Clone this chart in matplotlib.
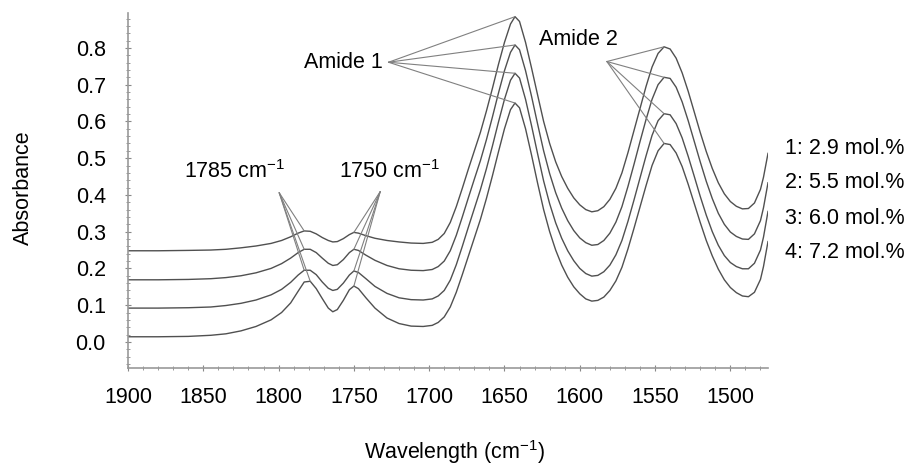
import numpy as np
import matplotlib
matplotlib.use("Agg")
import matplotlib.pyplot as plt
from matplotlib.ticker import MultipleLocator

plt.rcParams["font.family"] = ["Liberation Sans", "DejaVu Sans"]
plt.rcParams["mathtext.fontset"] = "custom"
plt.rcParams["mathtext.rm"] = "Liberation Sans"
plt.rcParams["mathtext.it"] = "Liberation Sans:italic"

# wavenumbers (cm-1)
wavenumber = [1900, 1880, 1860, 1845, 1835, 1825, 1815, 1805, 1798, 1792,
              1787, 1783, 1779, 1775, 1771, 1767, 1764, 1761, 1757, 1753,
              1750, 1747, 1742, 1736, 1728, 1720, 1712, 1704, 1698, 1694,
              1690, 1686, 1682, 1678, 1674, 1670, 1666, 1662, 1658, 1654,
              1650, 1646, 1643, 1640, 1636, 1632, 1628, 1624, 1620, 1616,
              1612, 1608, 1604, 1600, 1596, 1592, 1588, 1584, 1580, 1576,
              1572, 1568, 1564, 1560, 1556, 1552, 1548, 1544, 1540, 1536,
              1532, 1528, 1524, 1520, 1516, 1512, 1508, 1504, 1500, 1496,
              1492, 1488, 1484, 1480, 1478, 1475]

abs_1 = [0.248, 0.248, 0.249, 0.250, 0.252, 0.256, 0.261, 0.268, 0.276, 0.286,
         0.296, 0.302, 0.301, 0.294, 0.284, 0.276, 0.272, 0.273, 0.281, 0.292,
         0.298, 0.296, 0.289, 0.282, 0.276, 0.272, 0.269, 0.268, 0.271, 0.279,
         0.295, 0.325, 0.368, 0.418, 0.470, 0.520, 0.570, 0.628, 0.690, 0.755,
         0.815, 0.865, 0.885, 0.872, 0.815, 0.745, 0.672, 0.600, 0.540, 0.490,
         0.450, 0.418, 0.392, 0.373, 0.360, 0.354, 0.357, 0.368, 0.388, 0.418,
         0.460, 0.515, 0.575, 0.635, 0.695, 0.748, 0.785, 0.803, 0.797, 0.772,
         0.732, 0.682, 0.626, 0.570, 0.518, 0.472, 0.433, 0.403, 0.382, 0.369,
         0.362, 0.363, 0.378, 0.415, 0.448, 0.513]

abs_2 = [0.169, 0.169, 0.170, 0.172, 0.175, 0.180, 0.188, 0.200, 0.213, 0.228,
         0.243, 0.252, 0.252, 0.243, 0.228, 0.214, 0.208, 0.210, 0.224, 0.243,
         0.252, 0.249, 0.236, 0.222, 0.208, 0.199, 0.195, 0.194, 0.197, 0.205,
         0.220, 0.248, 0.290, 0.340, 0.392, 0.443, 0.493, 0.550, 0.612, 0.677,
         0.738, 0.788, 0.808, 0.795, 0.738, 0.668, 0.593, 0.520, 0.458, 0.406,
         0.364, 0.330, 0.303, 0.283, 0.270, 0.263, 0.265, 0.276, 0.296, 0.326,
         0.368, 0.423, 0.483, 0.545, 0.605, 0.660, 0.700, 0.720, 0.717, 0.693,
         0.653, 0.602, 0.546, 0.490, 0.437, 0.390, 0.350, 0.320, 0.299, 0.287,
         0.280, 0.279, 0.294, 0.330, 0.365, 0.433]

abs_3 = [0.092, 0.092, 0.093, 0.095, 0.099, 0.105, 0.114, 0.128, 0.143, 0.162,
         0.182, 0.195, 0.195, 0.183, 0.163, 0.146, 0.140, 0.143, 0.160, 0.182,
         0.193, 0.189, 0.172, 0.151, 0.132, 0.120, 0.115, 0.114, 0.117, 0.125,
         0.140, 0.168, 0.210, 0.260, 0.312, 0.363, 0.414, 0.471, 0.533, 0.598,
         0.660, 0.712, 0.731, 0.718, 0.660, 0.588, 0.512, 0.438, 0.376, 0.324,
         0.282, 0.248, 0.221, 0.200, 0.186, 0.179, 0.181, 0.191, 0.209, 0.237,
         0.276, 0.328, 0.386, 0.446, 0.506, 0.562, 0.602, 0.621, 0.618, 0.594,
         0.555, 0.505, 0.451, 0.396, 0.345, 0.300, 0.263, 0.235, 0.216, 0.205,
         0.199, 0.199, 0.214, 0.250, 0.285, 0.355]

abs_4 = [0.014, 0.014, 0.015, 0.018, 0.022, 0.030, 0.042, 0.060, 0.080, 0.106,
         0.138, 0.163, 0.165, 0.145, 0.118, 0.092, 0.082, 0.088, 0.113, 0.142,
         0.152, 0.145, 0.120, 0.092, 0.065, 0.050, 0.043, 0.042, 0.045, 0.053,
         0.068, 0.095, 0.135, 0.183, 0.233, 0.283, 0.333, 0.390, 0.452, 0.517,
         0.580, 0.632, 0.650, 0.637, 0.580, 0.508, 0.432, 0.360, 0.300, 0.250,
         0.209, 0.176, 0.150, 0.131, 0.117, 0.111, 0.113, 0.122, 0.140, 0.166,
         0.203, 0.253, 0.309, 0.367, 0.425, 0.480, 0.520, 0.540, 0.537, 0.514,
         0.477, 0.429, 0.377, 0.325, 0.276, 0.234, 0.198, 0.169, 0.148, 0.134,
         0.125, 0.123, 0.135, 0.170, 0.205, 0.273]

legend_labels = ["1: 2.9 mol.%", "2: 5.5 mol.%", "3: 6.0 mol.%", "4: 7.2 mol.%"]

FS = 15.5
LINE = "#505050"
ANN = "#808080"

fig = plt.figure(figsize=(9.17, 4.66), dpi=100)
ax = fig.add_axes([128 / 917, 98 / 466, 640 / 917, 355 / 466])

wn = np.array(wavenumber)
series = [np.array(a) for a in (abs_1, abs_2, abs_3, abs_4)]
for y in series:
    ax.plot(wn, y, color=LINE, lw=1.0)

ax.set_xlim(1900, 1475)
ax.set_ylim(-0.071, 0.895)

for side in ("top", "right"):
    ax.spines[side].set_visible(False)
for side in ("left", "bottom"):
    ax.spines[side].set_color("#999999")
    ax.spines[side].set_linewidth(1.2)

ax.xaxis.set_major_locator(MultipleLocator(50))
ax.xaxis.set_minor_locator(MultipleLocator(10))
ax.yaxis.set_major_locator(MultipleLocator(0.1))
ax.yaxis.set_minor_locator(MultipleLocator(0.02))
ax.set_yticks(np.arange(0.0, 0.81, 0.1))
ax.set_yticklabels([f"{v:.1f}" for v in np.arange(0.0, 0.81, 0.1)])
ax.tick_params(which="both", direction="inout", color="#888888", labelsize=FS)
ax.tick_params(which="major", length=4)
ax.tick_params(which="minor", length=2.5)
ax.tick_params(axis="y", pad=14)
ax.tick_params(axis="x", pad=12)


def peak(y, lo, hi):
    m = (wn <= hi) & (wn >= lo)
    i = np.argmax(np.where(m, y, -1))
    return wn[i], y[i]


def fan(origin, lo, hi):
    for y in series:
        ax.annotate("", xy=peak(y, lo, hi), xytext=origin,
                    arrowprops=dict(arrowstyle="-", color=ANN, lw=0.8,
                                    shrinkA=0, shrinkB=0))


fan((1727, 0.761), 1625, 1665)
ax.text(1731, 0.761, "Amide 1", ha="right", va="center", fontsize=FS)

fan((1582, 0.763), 1525, 1565)
ax.text(1627, 0.822, "Amide 2", ha="left", va="center", fontsize=FS)

fan((1799.6, 0.406), 1775, 1795)
ax.text(1829, 0.463, "1785 cm$^{-1}$", ha="center", va="center", fontsize=FS)

fan((1732.5, 0.409), 1745, 1755)
ax.text(1726, 0.463, "1750 cm$^{-1}$", ha="center", va="center", fontsize=FS)

for i, lab in enumerate(legend_labels):
    fig.text(785 / 917, 1 - (148 + 35 * i) / 466, lab, ha="left", va="center",
             fontsize=FS)

fig.text(23 / 917, 1 - 188 / 466, "Absorbance", rotation=90, ha="center",
         va="center", fontsize=FS)
fig.text(455 / 917, 1 - 452 / 466, "Wavelength (cm$^{-1}$)", ha="center",
         va="center", fontsize=FS)

fig.savefig("out.png", dpi=100)
